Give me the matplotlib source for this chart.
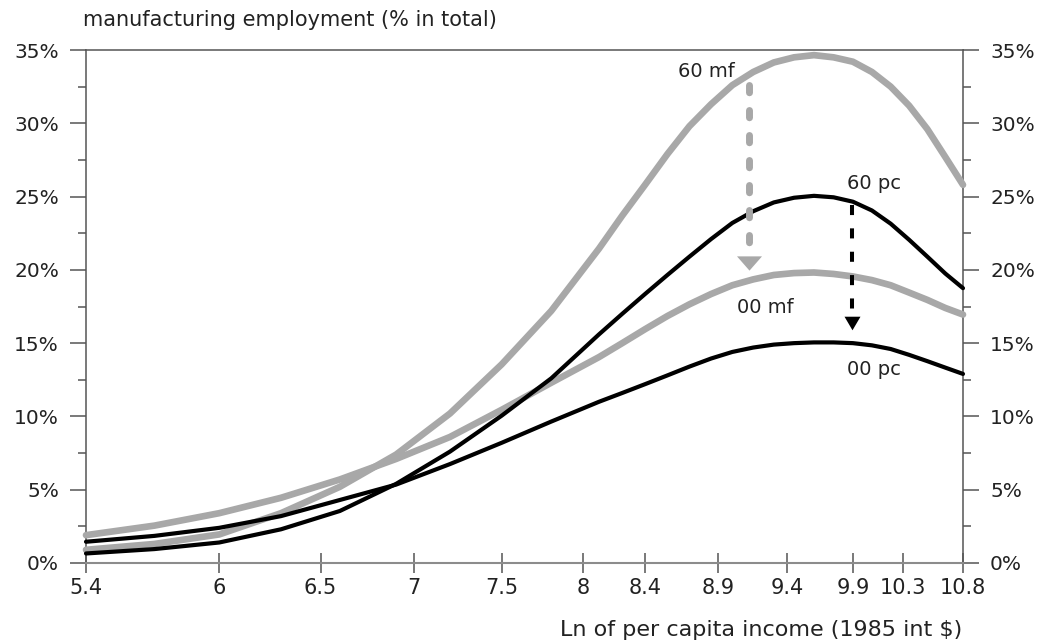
import numpy as np
import matplotlib.pyplot as plt
from matplotlib.ticker import FixedLocator, FuncFormatter, MultipleLocator, NullLocator

# ln of per capita income (1985 int $)
ln_income = [5.4, 5.7, 6.0, 6.3, 6.6, 6.9, 7.2, 7.5, 7.8, 8.1,
             8.25, 8.4, 8.55, 8.7, 8.85, 9.0, 9.15, 9.3, 9.45, 9.6,
             9.75, 9.9, 10.05, 10.2, 10.35, 10.5, 10.65, 10.8]

# manufacturing employment, % of total
mf_60 = [0.9, 1.3, 1.95, 3.4, 5.2, 7.4, 10.2, 13.55, 17.2, 21.45,
         23.7, 25.8, 27.9, 29.8, 31.3, 32.6, 33.5, 34.15, 34.5, 34.65,
         34.5, 34.2, 33.5, 32.5, 31.2, 29.6, 27.7, 25.8]
pc_60 = [0.65, 0.95, 1.4, 2.3, 3.55, 5.4, 7.6, 10.05, 12.6, 15.6,
         17.0, 18.35, 19.65, 20.9, 22.1, 23.2, 24.0, 24.6, 24.92, 25.05,
         24.95, 24.65, 24.05, 23.15, 22.05, 20.9, 19.75, 18.75]
mf_00 = [1.9, 2.55, 3.4, 4.45, 5.7, 7.1, 8.6, 10.45, 12.3, 14.05,
         15.0, 15.95, 16.85, 17.65, 18.35, 18.95, 19.35, 19.65, 19.78, 19.82,
         19.72, 19.55, 19.3, 18.95, 18.45, 17.95, 17.4, 16.95]
pc_00 = [1.45, 1.85, 2.4, 3.2, 4.3, 5.35, 6.75, 8.2, 9.65, 11.0,
         11.6, 12.2, 12.8, 13.4, 13.95, 14.4, 14.7, 14.9, 15.0, 15.05,
         15.05, 15.0, 14.85, 14.6, 14.2, 13.77, 13.33, 12.9]

x_ticks = [5.4, 6, 6.5, 7, 7.5, 8, 8.4, 8.9, 9.4, 9.9, 10.3, 10.8]
x_tick_labels = ['5.4', '6', '6.5', '7', '7.5', '8', '8.4', '8.9', '9.4', '9.9', '10.3', '10.8']

# shift 1960 -> 2000: x, dash start, dash end, head centre
shift_mf = (9.12, 32.6, 21.2, 20.5)
shift_pc = (9.89, 24.4, 16.8, 16.4)

GREY = '#a8a8a8'
INK = '#222222'
AXC = '#555555'

fig = plt.figure(figsize=(10.39, 6.44), dpi=100)
ax = fig.add_axes([86 / 1039, 81 / 644, 877 / 1039, 513 / 644])

ax.plot(ln_income, mf_60, color=GREY, lw=4.8, solid_capstyle='round',
        solid_joinstyle='round', clip_on=False, zorder=3)
ax.plot(ln_income, mf_00, color=GREY, lw=4.8, solid_capstyle='round',
        solid_joinstyle='round', clip_on=False, zorder=3)
ax.plot(ln_income, pc_60, color='black', lw=3.0, solid_capstyle='round',
        solid_joinstyle='round', clip_on=False, zorder=4)
ax.plot(ln_income, pc_00, color='black', lw=3.0, solid_capstyle='round',
        solid_joinstyle='round', clip_on=False, zorder=4)

# dashed shift arrows
x0, ya, yb, yh = shift_mf
ax.plot([x0, x0], [ya, yb], color=GREY, lw=5, ls=(0, (1.05, 2.55)),
        dash_capstyle='round', zorder=5)
ax.plot([x0], [yh], marker=[(-1, 0.57), (1, 0.57), (0, -0.57)], ms=18,
        color=GREY, mec=GREY, mew=0, zorder=5)
x0, ya, yb, yh = shift_pc
ax.plot([x0, x0], [ya, yb], color='black', lw=2.9, ls=(0, (2.5, 3.3)),
        dash_capstyle='butt', zorder=5)
ax.plot([x0], [yh], marker=[(-1, 0.85), (1, 0.85), (0, -0.85)], ms=11.5,
        color='black', mec='black', mew=0, zorder=5)

# curve labels
lab = dict(fontsize=14, color=INK, ha='left', va='center')
ax.text(8.62, 33.5, '60 mf', **lab)
ax.text(9.85, 25.9, '60 pc', **lab)
ax.text(9.03, 17.45, '00 mf', **lab)
ax.text(9.85, 13.2, '00 pc', **lab)

ax.set_xscale('log')
ax.set_xlim(5.4, 10.8)
ax.set_ylim(0, 35)
ax.xaxis.set_major_locator(FixedLocator(x_ticks))
ax.xaxis.set_minor_locator(NullLocator())
ax.set_xticklabels(x_tick_labels)
ax.yaxis.set_major_locator(MultipleLocator(5))
ax.yaxis.set_minor_locator(MultipleLocator(2.5))
ax.yaxis.set_major_formatter(FuncFormatter(lambda v, p: '%d%%' % v))

ax.tick_params(axis='x', which='major', direction='inout', length=14, width=1.1,
               color=AXC, labelsize=15, labelcolor=INK, pad=4)
ax.tick_params(axis='y', which='major', direction='out', length=11.5, width=1.1,
               color=AXC, labelsize=14.5, labelcolor=INK, pad=8,
               left=True, right=True, labelleft=True, labelright=True)
ax.tick_params(axis='y', which='minor', direction='out', length=5.8, width=1.1,
               color=AXC, left=True, right=True)

for side in ['left', 'right', 'top']:
    ax.spines[side].set_color(AXC)
    ax.spines[side].set_linewidth(1.1)
ax.spines['bottom'].set_color('#8c8c8c')
ax.spines['bottom'].set_linewidth(1.5)

fig.text(83 / 1039, 1 - 20 / 644, 'manufacturing employment (% in total)',
         fontsize=15, color=INK, ha='left', va='center')
fig.text(962 / 1039, 1 - 630 / 644, 'Ln of per capita income (1985 int $)',
         fontsize=16, color=INK, ha='right', va='center')

fig.savefig('out.png', dpi=100)
